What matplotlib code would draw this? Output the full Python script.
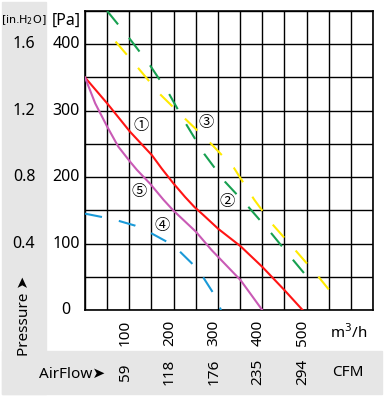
import numpy as np
import matplotlib
matplotlib.use("Agg")
import matplotlib.pyplot as plt
from matplotlib.transforms import blended_transform_factory, ScaledTranslation
from matplotlib.patches import Rectangle

plt.rcParams['font.family'] = ['Noto Sans', 'DejaVu Sans']

# curve readings, x in m3/h, y in Pa
red_x = [0, 50, 102, 151, 173, 199, 226, 247, 267, 301, 351, 400, 450, 491]
red_y = [350, 311, 268, 233, 213, 191, 170, 155, 143, 122, 96, 65, 30, 0]

mag_x = [0, 23, 50, 75, 102, 117, 147, 177, 199, 250, 286, 351, 400]
mag_y = [350, 311, 276, 246, 223, 211, 190, 166, 150, 118, 90, 45, 0]

grn_x = [50, 100, 147, 190, 228, 269, 316, 369, 421, 470, 495]
grn_y = [450, 409, 368, 325, 280, 235, 193, 155, 115, 75, 55]

yel_x = [69, 119, 169, 224, 282, 336, 382, 423, 476, 527, 550]
yel_y = [404, 365, 325, 289, 252, 214, 166, 129, 89, 50, 31]

blu_x = [0, 38, 77, 113, 151, 184, 214, 243, 267, 288, 307]
blu_y = [145, 140, 134, 127, 115, 103, 88, 69, 49, 27, 0]

flow_ticks = [100, 200, 300, 400, 500]
cfm_labels = ['59', '118', '176', '235', '294']
pa_ticks = [0, 100, 200, 300, 400]
inch_ticks = [100, 200, 300, 400]
inch_labels = ['0.4', '0.8', '1.2', '1.6']

marks = ['①', '②', '③', '④', '⑤']
mark_x = [126, 320, 273, 175, 122]
mark_y = [277, 163, 282, 127, 178]

W, H = 388, 400
fig = plt.figure(figsize=(W / 100, H / 100), dpi=100)

def fx(px):
    return px / W

def fy(py):
    return 1 - py / H

# gray panels
for x0, y0, x1, y1 in [(2, 2, 46, 394), (2, 351, 382, 394)]:
    fig.patches.append(Rectangle((fx(x0), fy(y1)), fx(x1) - fx(x0), fy(y0) - fy(y1),
                                 transform=fig.transFigure, color='#e6e6e6', zorder=-5))

ax = fig.add_axes([fx(85), fy(310), fx(373) - fx(85), fy(11) - fy(310)])
ax.set_xlim(0, 650)
ax.set_ylim(0, 450)
ax.set_xticks(np.arange(0, 651, 50))
ax.set_yticks(np.arange(0, 451, 50))
ax.tick_params(length=0, labelbottom=False, labelleft=False)
ax.grid(True, color='black', lw=1.0)
for s in ax.spines.values():
    s.set_color('black')
    s.set_linewidth(1.2)

ax.plot(red_x, red_y, color='#ff1414', lw=1.5, zorder=3)
ax.plot(mag_x, mag_y, color='#c95ab5', lw=1.5, zorder=3)
dash = (0, (8.3, 8.3))
ax.plot(grn_x, grn_y, color='#17a050', lw=1.5, ls=dash, zorder=3)
ax.plot(yel_x, yel_y, color='#ffea00', lw=1.5, ls=dash, zorder=3)
ax.plot(blu_x, blu_y, color='#1a9ad8', lw=1.5, ls=dash, zorder=3)

for m, x, y in zip(marks, mark_x, mark_y):
    ax.text(x, y, m, ha='center', va='center', fontsize=11,
            family=['Noto Sans CJK SC', 'DejaVu Sans'], zorder=4)

# axis labels
shift = ScaledTranslation(-0.04, 0, fig.dpi_scale_trans)
tx = blended_transform_factory(ax.transData, fig.transFigure) + shift
for v in flow_ticks:
    fig.text(v, fy(333), str(v), rotation=90, ha='center', va='center',
             fontsize=11, transform=tx)
for v, lab in zip(flow_ticks, cfm_labels):
    fig.text(v, fy(372), lab, rotation=90, ha='center', va='center',
             fontsize=11, transform=tx)

ty = blended_transform_factory(fig.transFigure, ax.transData)
for v in pa_ticks:
    fig.text(fx(66), v, str(v), ha='center', va='center', fontsize=11.5, transform=ty)
for v, lab in zip(inch_ticks, inch_labels):
    fig.text(fx(24), v, lab, ha='center', va='center', fontsize=11.5, transform=ty)

fig.text(fx(66), fy(21), '[Pa]', ha='center', va='center', fontsize=11.5)
fig.text(fx(24), fy(20), '[in.H$_2$O]', ha='center', va='center', fontsize=8,
         family=['Liberation Sans Narrow', 'DejaVu Sans'])
fig.text(fx(24), fy(316), 'Pressure ➤', rotation=90, ha='center', va='center', fontsize=11)
fig.text(fx(72), fy(374), 'AirFlow➤', ha='center', va='center', fontsize=11)
fig.text(fx(349), fy(333), 'm$^3$/h', ha='center', va='center', fontsize=11)
fig.text(fx(348), fy(373), 'CFM', ha='center', va='center', fontsize=11)

fig.savefig('out.png', dpi=100)
